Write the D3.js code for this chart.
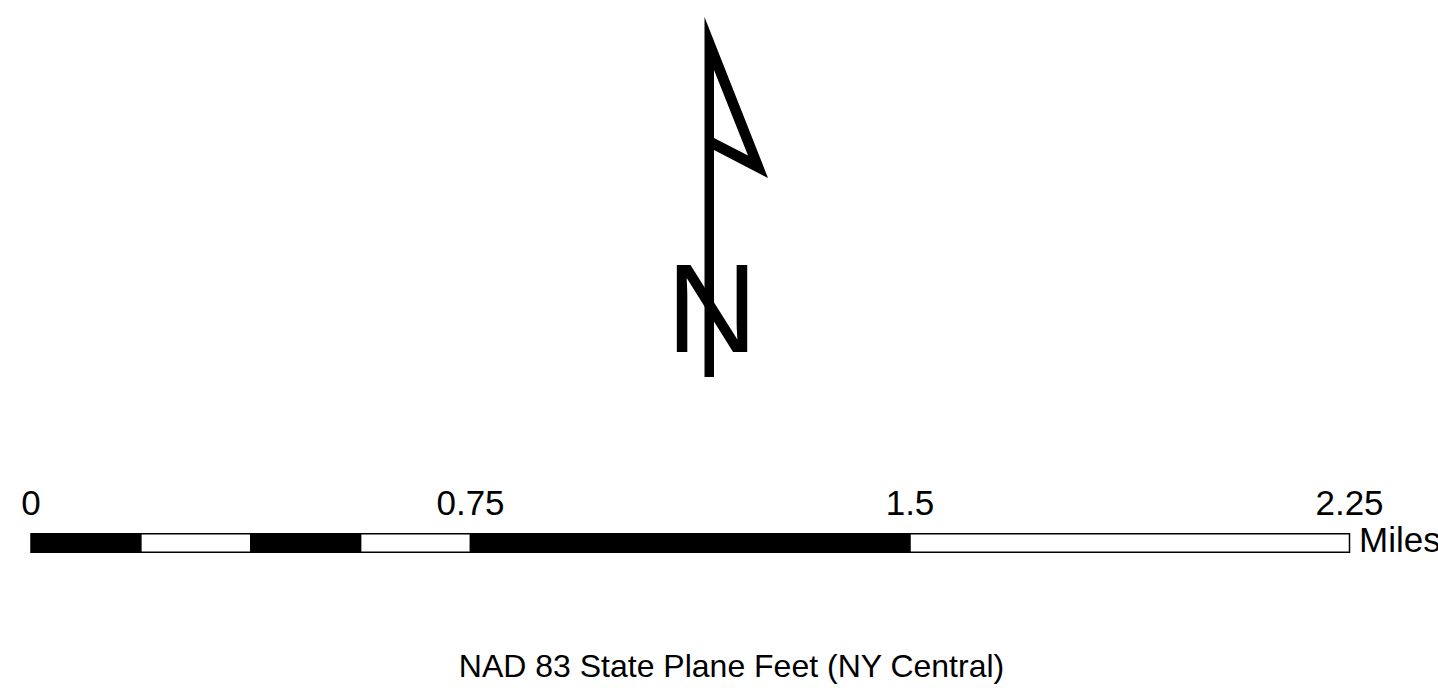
<!DOCTYPE html>
<html>
<head>
<meta charset="utf-8">
<script src="https://d3js.org/d3.v7.min.js"></script>
<style>
  body { margin: 0; background: white; }
  text { font-family: "Liberation Sans", Arial, sans-serif; fill: black; }
</style>
</head>
<body>
<div id="map"></div>
<script>
// scale bar values (miles)
var breaks = [0, 0.1875, 0.375, 0.5625, 0.75, 1.5, 2.25];
var segFills = ["black", "white", "black", "white", "black", "white"];
var tickValues = [0, 0.75, 1.5, 2.25];
var tickLabels = ["0", "0.75", "1.5", "2.25"];
var unitLabel = "Miles";
var projLabel = "NAD 83 State Plane Feet (NY Central)";

var width = 1438, height = 688;

var svg = d3.select("#map")
  .append("svg")
  .attr("width", width)
  .attr("height", height);

// north arrow
var arrow = svg.append("g");

// letter N (pole is drawn over it)
arrow.append("text")
  .attr("x", 712)
  .attr("y", 352)
  .style("font-size", "126px")
  .style("text-anchor", "middle")
  .text("N");

// pole + flag as one shape, the flag hole cut out with evenodd
arrow.append("path")
  .attr("d", "M704.5,17 L768,178 L714,150 L714,377 L704.5,377 Z M714,70 L748,155.5 L714,138 Z")
  .attr("fill", "black")
  .attr("fill-rule", "evenodd");

// scale bar
var x = d3.scaleLinear().domain([0, 2.25]).range([31, 1349.5]);

var segs = breaks.slice(0, -1).map(function (b, i) {
  return { from: b, to: breaks[i + 1], fill: segFills[i] };
});

svg.append("g")
  .selectAll("rect")
  .data(segs)
  .enter()
  .append("rect")
  .attr("x", d => x(d.from))
  .attr("y", 533.75)
  .attr("width", d => x(d.to) - x(d.from))
  .attr("height", 18.5)
  .attr("fill", d => d.fill)
  .attr("stroke", "black")
  .attr("stroke-width", 1.5);

svg.append("g")
  .selectAll("text")
  .data(tickValues)
  .enter()
  .append("text")
  .attr("x", d => x(d))
  .attr("y", 515)
  .style("font-size", "35px")
  .style("text-anchor", "middle")
  .text((d, i) => tickLabels[i]);

svg.append("text")
  .attr("x", x(2.25) + 9.5)
  .attr("y", 552)
  .style("font-size", "35px")
  .text(unitLabel);

// projection note
svg.append("text")
  .attr("x", 731.5)
  .attr("y", 677)
  .style("font-size", "32px")
  .style("text-anchor", "middle")
  .text(projLabel);
</script>
</body>
</html>
